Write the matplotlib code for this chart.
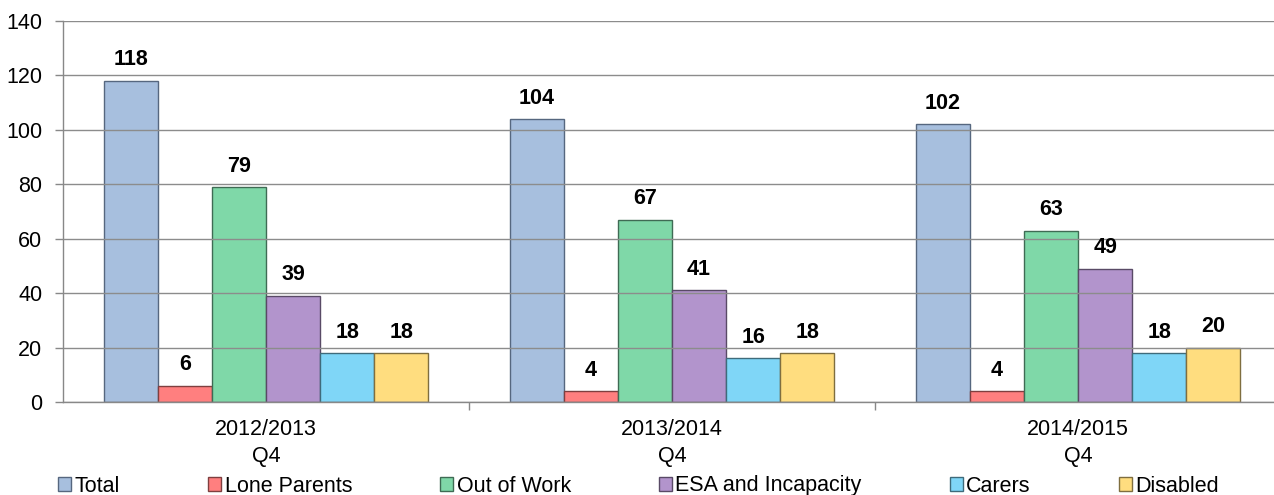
import matplotlib
matplotlib.use("Agg")
import matplotlib.pyplot as plt
import numpy as np

plt.rcParams['font.family'] = ['Liberation Sans', 'DejaVu Sans']

categories = ["2012/2013\nQ4", "2013/2014\nQ4", "2014/2015\nQ4"]
series_names = ["Total", "Lone Parents", "Out of Work", "ESA and Incapacity", "Carers", "Disabled"]
total = [118, 104, 102]
lone_parents = [6, 4, 4]
out_of_work = [79, 67, 63]
esa_incapacity = [39, 41, 49]
carers = [18, 16, 18]
disabled = [18, 18, 20]
series_values = [total, lone_parents, out_of_work, esa_incapacity, carers, disabled]

fill_colors = ["#A7BFDE", "#FF7F7F", "#7FD8A8", "#B294CC", "#7FD6F7", "#FFDD7F"]
edge_colors = ["#56677F", "#7F3F3F", "#3F6B54", "#594A66", "#3F6B7B", "#7F6E3F"]

W, H = 1274, 495
fig = plt.figure(figsize=(W/100, H/100), dpi=100)
ax = fig.add_axes([63/W, 93/H, 1 - 63/W, (402-21)/H])

x = np.arange(len(categories))
n = len(series_values)
w = 0.8 / n
for i, (vals, name) in enumerate(zip(series_values, series_names)):
    pos = x - 0.4 + w * (i + 0.5)
    ax.bar(pos, vals, width=w, color=fill_colors[i], edgecolor=edge_colors[i],
           linewidth=1.0, label=name, zorder=2)
    for p, v in zip(pos, vals):
        ax.annotate(str(v), (p, v), xytext=(0, 7.5), textcoords='offset points',
                    ha='center', va='bottom', fontsize=15.5,
                    fontweight='bold', color='black', zorder=4)

ax.set_ylim(0, 140)
ax.set_yticks(np.arange(0, 141, 20))
ax.set_xlim(-0.5, -0.5 + (W-63)/406)
ax.set_xticks(x)
ax.set_xticklabels(categories, fontsize=15.5, linespacing=1.42)
ax.set_xticks([0.5, 1.5], minor=True)
ax.tick_params(axis='x', which='major', length=0, pad=12)
ax.tick_params(axis='x', which='minor', length=6, color='#888888', width=1)
ax.tick_params(axis='y', length=6, color='#888888', width=1, labelsize=15.5, pad=9)

ax.yaxis.grid(True, color='#8c8c8c', linewidth=1.0, zorder=3)
ax.set_axisbelow(False)
for s in ['top', 'right']:
    ax.spines[s].set_visible(False)
for s in ['left', 'bottom']:
    ax.spines[s].set_color('#888888')
    ax.spines[s].set_linewidth(1.0)

leg = fig.legend(*ax.get_legend_handles_labels(), loc='center left',
                 bbox_to_anchor=(58/W, 9/H, (1219-58)/W, 0),
                 mode='expand', ncol=6, frameon=False, fontsize=15.5,
                 handlelength=0.62, handleheight=0.62, handletextpad=0.15,
                 borderaxespad=0, borderpad=0)

fig.savefig("out.png", dpi=100)
